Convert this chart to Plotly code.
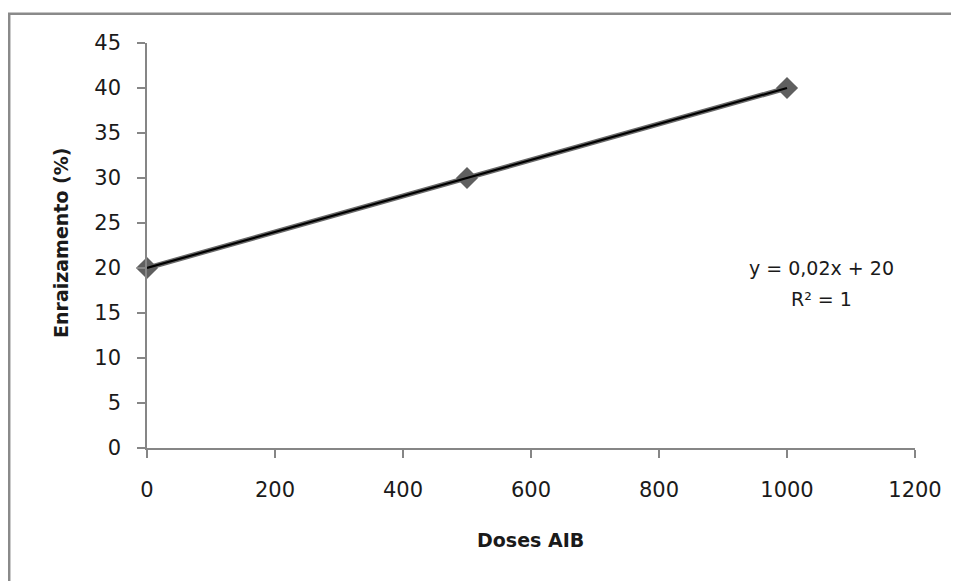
import numpy as np
import plotly.graph_objects as go

doses = [0, 500, 1000]
enraizamento = [20, 30, 40]
x_ticks = [0, 200, 400, 600, 800, 1000, 1200]
y_ticks = [0, 5, 10, 15, 20, 25, 30, 35, 40, 45]

W, H = 959, 581
OFF = 8  # browser body margin
L, R, T, B = 147.3 - OFF, 915.3 - OFF, 42.7 - OFF, 447.7 - OFF

def px(xp):
    return (xp - OFF - L) / (R - L)

def py(yp):
    return (B - (yp - OFF)) / (B - T)

slope, intercept = np.polyfit(doses, enraizamento, 1)
trend_x = np.array([min(doses), max(doses)])
trend_y = slope * trend_x + intercept
r2 = 1 - np.sum((np.array(enraizamento) - (slope * np.array(doses) + intercept)) ** 2) / np.sum((np.array(enraizamento) - np.mean(enraizamento)) ** 2)

FONT = "DejaVu Sans"

fig = go.Figure()
fig.add_trace(go.Scatter(
    x=doses, y=enraizamento, mode="lines+markers",
    line=dict(color="#6a6a6a", width=5),
    marker=dict(symbol="diamond", size=17, color="#5f5f5f"),
    showlegend=False, cliponaxis=False,
))
fig.add_trace(go.Scatter(
    x=trend_x, y=trend_y, mode="lines",
    line=dict(color="#000000", width=2.2),
    showlegend=False, cliponaxis=False,
))

axis_common = dict(
    showgrid=False, zeroline=False, showline=True, linecolor="#868686", linewidth=1.5,
    ticks="outside", ticklen=8, tickcolor="#868686", tickwidth=1.5,
    tickfont=dict(family=FONT, size=21, color="#1a1a1a"),
)
fig.update_xaxes(range=[0, 1200], tickvals=x_ticks, ticktext=[str(v) for v in x_ticks],
                 ticklabelstandoff=14, **axis_common)
fig.update_yaxes(range=[0, 45], tickvals=y_ticks, ticktext=[str(v) for v in y_ticks],
                 ticklabelstandoff=12, **axis_common)

eq1 = "y = {:.2f}x + {:.0f}".format(slope, intercept).replace(".", ",")
eq2 = "R² = {:.0f}".format(r2)

annotations = [
    dict(text="<b>Doses AIB</b>", x=px(530.5), y=py(540), xref="paper", yref="paper",
         showarrow=False, font=dict(family=FONT, size=19, color="#1a1a1a"),
         xanchor="center", yanchor="middle"),
    dict(text="<b>Enraizamento (%)</b>", x=px(62), y=py(243), xref="paper", yref="paper",
         showarrow=False, textangle=-90, font=dict(family=FONT, size=19, color="#1a1a1a"),
         xanchor="center", yanchor="middle"),
    dict(text=eq1, x=px(822), y=py(268), xref="paper", yref="paper",
         showarrow=False, font=dict(family=FONT, size=19, color="#1a1a1a"),
         xanchor="center", yanchor="middle"),
    dict(text=eq2, x=px(822), y=py(299), xref="paper", yref="paper",
         showarrow=False, font=dict(family=FONT, size=19, color="#1a1a1a"),
         xanchor="center", yanchor="middle"),
]

fig.update_layout(
    width=W, height=H,
    margin=dict(l=L, r=W - R, t=T, b=H - B, pad=0),
    paper_bgcolor="white", plot_bgcolor="white",
    annotations=annotations,
    shapes=[dict(type="rect", xref="paper", yref="paper",
                 x0=px(9.5), y0=py(13.5), x1=px(1000), y1=py(700),
                 line=dict(color="#8a8a8a", width=2.5), fillcolor="rgba(0,0,0,0)", layer="below")],
)

fig.write_html("out.html")
